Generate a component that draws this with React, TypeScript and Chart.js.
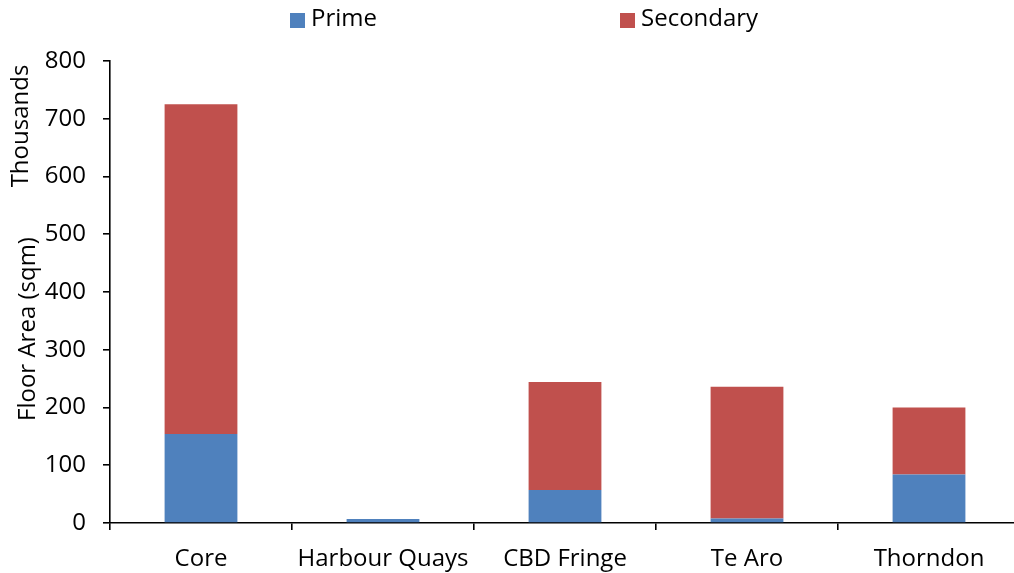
import React, { useEffect, useRef } from "react";
import { Chart, registerables } from "chart.js";

Chart.register(...registerables);

const categories = ["Core", "Harbour Quays", "CBD Fringe", "Te Aro", "Thorndon"];
const primeValues = [154, 7, 57, 8, 84];
const secondaryValues = [571, 0, 187, 228, 116];
const yTicks = [0, 100, 200, 300, 400, 500, 600, 700, 800];
const seriesNames = ["Prime", "Secondary"];
const seriesColors = ["#4F81BD", "#C0504D"];
const yTitle = "Floor Area (sqm)";
const yUnit = "Thousands";

const FONT = "'Open Sans', 'Noto Sans', sans-serif";

const overlayPlugin = {
  id: "overlay",
  afterDraw(chart: any) {
    const ctx = chart.ctx;
    ctx.save();
    ctx.fillStyle = "#000";
    ctx.font = `24px ${FONT}`;
    ctx.textBaseline = "middle";
    // legend
    const items = chart.data.datasets.map((d: any) => ({ label: d.label, color: d.backgroundColor }));
    const boxX = [290, 620];
    items.forEach((it: any, i: number) => {
      ctx.fillStyle = it.color;
      ctx.fillRect(boxX[i], 13, 15, 15);
      ctx.fillStyle = "#000";
      ctx.textAlign = "left";
      ctx.fillText(it.label, boxX[i] + 21, 19);
    });
    // axis titles
    const drawRot = (text: string, x: number, y: number) => {
      ctx.save();
      ctx.translate(x, y);
      ctx.rotate(-Math.PI / 2);
      ctx.textAlign = "center";
      ctx.textBaseline = "middle";
      ctx.fillText(text, 0, 0);
      ctx.restore();
    };
    drawRot(yUnit, 21, 126);
    drawRot(yTitle, 28, 329);
    ctx.restore();
  },
};

export default function App() {
  const ref = useRef<HTMLCanvasElement>(null);
  useEffect(() => {
    document.body.style.margin = "0";
    document.body.style.overflow = "hidden";
    const chart = new Chart(ref.current!, {
      type: "bar",
      data: {
        labels: categories,
        datasets: [
          { label: seriesNames[0], data: primeValues, backgroundColor: seriesColors[0], barPercentage: 0.4, categoryPercentage: 1 },
          { label: seriesNames[1], data: secondaryValues, backgroundColor: seriesColors[1], barPercentage: 0.4, categoryPercentage: 1 },
        ],
      },
      options: {
        animation: false,
        responsive: false,
        maintainAspectRatio: false,
        layout: { padding: { top: 61, left: 0, right: 0, bottom: 0 } },
        plugins: { legend: { display: false }, tooltip: { enabled: false } },
        scales: {
          x: {
            stacked: true,
            afterFit: (s: any) => { s.height = 50; },
            grid: { display: true, offset: true, drawOnChartArea: false, drawTicks: true, tickLength: 7, color: "#000", lineWidth: 1.6 },
            border: { display: true, color: "#000", width: 1.6 },
            ticks: { color: "#000", font: { family: FONT, size: 24 }, padding: 15, maxRotation: 0 },
          },
          y: {
            stacked: true,
            min: 0,
            max: 800,
            afterFit: (s: any) => { s.width = 110; },
            afterBuildTicks: (s: any) => { s.ticks = yTicks.map((v) => ({ value: v })); },
            grid: { display: true, drawOnChartArea: false, drawTicks: true, tickLength: 7, color: "#000", lineWidth: 1.6 },
            border: { display: true, color: "#000", width: 1.6 },
            ticks: { color: "#000", font: { family: FONT, size: 24 }, padding: 17 },
          },
        },
      },
      plugins: [overlayPlugin],
    });
    return () => chart.destroy();
  }, []);
  return (
    <div style={{ position: "fixed", left: 0, top: 0, width: 1020, height: 573 }}>
      <canvas ref={ref} width={1020} height={573} style={{ width: 1020, height: 573 }} />
    </div>
  );
}
